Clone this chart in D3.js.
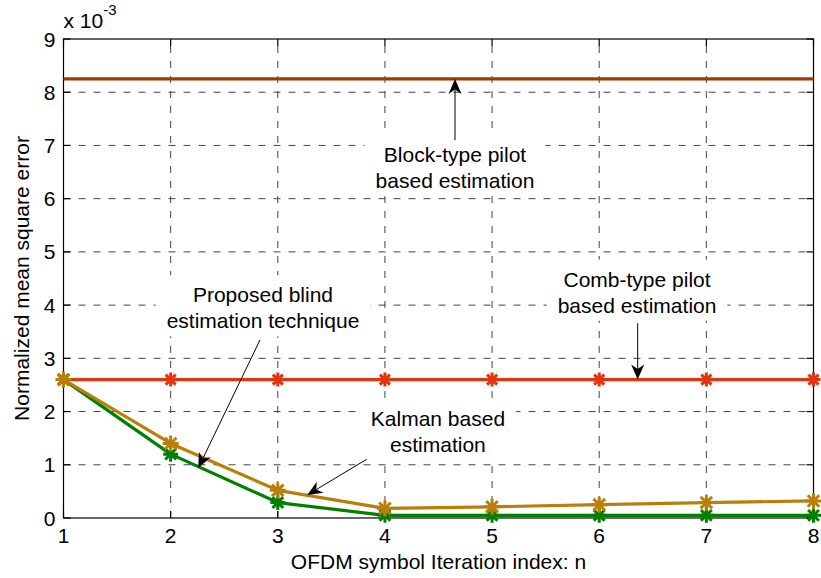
<!DOCTYPE html>
<html>
<head>
<meta charset="utf-8">
<script src="https://cdn.jsdelivr.net/npm/d3@7/dist/d3.min.js"></script>
<style>
  body { margin: 0; background: #fff; }
  text { font-family: "Liberation Sans", Arial, Helvetica, sans-serif; fill: #000; }
</style>
</head>
<body>
<svg id="chart" width="821" height="578"></svg>
<script>
// --- data (values in units of 1e-3) ---
const iterIndex  = [1, 2, 3, 4, 5, 6, 7, 8];
const blockType  = [8.25, 8.25, 8.25, 8.25, 8.25, 8.25, 8.25, 8.25];
const combType   = [2.6, 2.6, 2.6, 2.6, 2.6, 2.6, 2.6, 2.6];
const blindEst   = [2.6, 1.2, 0.29, 0.05, 0.05, 0.05, 0.05, 0.05];
const kalmanEst  = [2.6, 1.4, 0.52, 0.18, 0.21, 0.25, 0.29, 0.32];
const xTicks = [1, 2, 3, 4, 5, 6, 7, 8];
const yTicks = [0, 1, 2, 3, 4, 5, 6, 7, 8, 9];

// annotations: text anchor and arrow in data coordinates
const notes = [
  { lines: ["Block-type pilot", "based estimation"], cx: 4.654, by: 6.695, from: [4.654, 7.10], to: [4.654, 8.25] },
  { lines: ["Comb-type pilot", "based estimation"], cx: 6.353, by: 4.346, from: [6.359, 3.66], to: [6.359, 2.6] },
  { lines: ["Proposed blind", "estimation technique"], cx: 2.862, by: 4.053, from: [2.834, 3.345], to: [2.258, 0.939] },
  { lines: ["Kalman based", "estimation"], cx: 4.495, by: 1.734, from: [3.83, 1.103], to: [3.275, 0.432] }
];

const W = 821, H = 578;
const m = { top: 39, right: 7.5, bottom: 60, left: 63.5 };
const svg = d3.select("#chart");

const x = d3.scaleLinear().domain([1, 8]).range([m.left, W - m.right]);
const y = d3.scaleLinear().domain([0, 9]).range([H - m.bottom, m.top]);
const FS = 21;

// grid
const grid = svg.append("g").attr("stroke", "#444").attr("stroke-width", 1).attr("stroke-dasharray", "7,8");
grid.selectAll(".gx").data(xTicks.slice(1, -1)).join("line")
  .attr("x1", d => x(d)).attr("x2", d => x(d)).attr("y1", y(0)).attr("y2", y(9));
grid.selectAll(".gy").data(yTicks.slice(1, -1)).join("line")
  .attr("y1", d => y(d)).attr("y2", d => y(d)).attr("x1", x(1)).attr("x2", x(8));

// text boxes (white) cover grid
const noteG = svg.append("g");
notes.forEach(n => {
  const g = noteG.append("g");
  const t = g.append("text").attr("text-anchor", "middle").style("font-size", FS + "px");
  n.lines.forEach((l, i) => {
    t.append("tspan").attr("x", x(n.cx)).attr("y", y(n.by) + i * 26).text(l);
  });
  const bb = t.node().getBBox();
  g.insert("rect", "text").attr("x", bb.x - 11).attr("y", bb.y - 8)
    .attr("width", bb.width + 22).attr("height", bb.height + 12).attr("fill", "#fff");
});

// axes box + inward ticks
const ax = svg.append("g").attr("stroke", "#000").attr("stroke-width", 1.2);
ax.append("rect").attr("x", x(1)).attr("y", y(9)).attr("width", x(8) - x(1)).attr("height", y(0) - y(9)).attr("fill", "none");
xTicks.forEach(d => {
  ax.append("line").attr("x1", x(d)).attr("x2", x(d)).attr("y1", y(0)).attr("y2", y(0) - 7);
  ax.append("line").attr("x1", x(d)).attr("x2", x(d)).attr("y1", y(9)).attr("y2", y(9) + 7);
});
yTicks.forEach(d => {
  ax.append("line").attr("y1", y(d)).attr("y2", y(d)).attr("x1", x(1)).attr("x2", x(1) + 7);
  ax.append("line").attr("y1", y(d)).attr("y2", y(d)).attr("x1", x(8)).attr("x2", x(8) - 7);
});

svg.append("g").selectAll("text").data(xTicks).join("text")
  .attr("x", d => x(d)).attr("y", y(0) + 25).attr("text-anchor", "middle")
  .style("font-size", FS + "px").text(d => d);
svg.append("g").selectAll("text").data(yTicks).join("text")
  .attr("x", x(1) - 8).attr("y", d => y(d)).attr("dy", "0.36em").attr("text-anchor", "end")
  .style("font-size", FS + "px").text(d => d);

// exponent
const ex = svg.append("text").attr("x", x(1)).attr("y", 28).style("font-size", FS + "px");
ex.append("tspan").text("x 10");
ex.append("tspan").attr("dy", -13).style("font-size", "15px").text("-3");

// axis labels
svg.append("text").attr("x", (x(1) + x(8)) / 2).attr("y", 569).attr("text-anchor", "middle")
  .style("font-size", FS + "px").text("OFDM symbol Iteration index: n");
svg.append("text").attr("transform", `translate(29,${(y(0) + y(9)) / 2}) rotate(-90)`)
  .attr("text-anchor", "middle").style("font-size", FS + "px").text("Normalized mean square error");

// series
const line = d3.line().x((d, i) => x(iterIndex[i])).y(d => y(d));
const star = r => `M${-r},0H${r}M0,${-r}V${r}M${-r * 0.72},${-r * 0.72}L${r * 0.72},${r * 0.72}M${-r * 0.72},${r * 0.72}L${r * 0.72},${-r * 0.72}`;

const series = [
  { vals: blockType, color: "#a83400", marker: false },
  { vals: combType, color: "#e3330f", marker: true, r: 7 },
  { vals: blindEst, color: "#008000", marker: true, r: 7.5 },
  { vals: kalmanEst, color: "#b8800b", marker: true, r: 8 }
];
series.forEach(s => {
  svg.append("path").datum(s.vals).attr("d", line).attr("fill", "none")
    .attr("stroke", s.color).attr("stroke-width", 3.2).attr("stroke-linejoin", "round");
  if (s.marker) {
    svg.append("g").selectAll("path").data(s.vals).join("path")
      .attr("transform", (d, i) => `translate(${x(iterIndex[i])},${y(d)})`)
      .attr("d", star(s.r)).attr("fill", "none").attr("stroke", s.color).attr("stroke-width", 3);
  }
});

// arrows
const arr = svg.append("g");
notes.forEach(n => {
  const x0 = x(n.from[0]), y0 = y(n.from[1]), x1 = x(n.to[0]), y1 = y(n.to[1]);
  const a = Math.atan2(y1 - y0, x1 - x0);
  const L = 15, hw = 6.5, notch = 10.5;
  const ux = Math.cos(a), uy = Math.sin(a), px = -uy, py = ux;
  arr.append("line").attr("x1", x0).attr("y1", y0).attr("x2", x1 - ux * notch).attr("y2", y1 - uy * notch)
    .attr("stroke", "#000").attr("stroke-width", 1);
  const pts = [
    [x1, y1],
    [x1 - ux * L + px * hw, y1 - uy * L + py * hw],
    [x1 - ux * notch, y1 - uy * notch],
    [x1 - ux * L - px * hw, y1 - uy * L - py * hw]
  ];
  arr.append("path").attr("d", "M" + pts.map(p => p.join(",")).join("L") + "Z").attr("fill", "#000");
});
</script>
</body>
</html>
